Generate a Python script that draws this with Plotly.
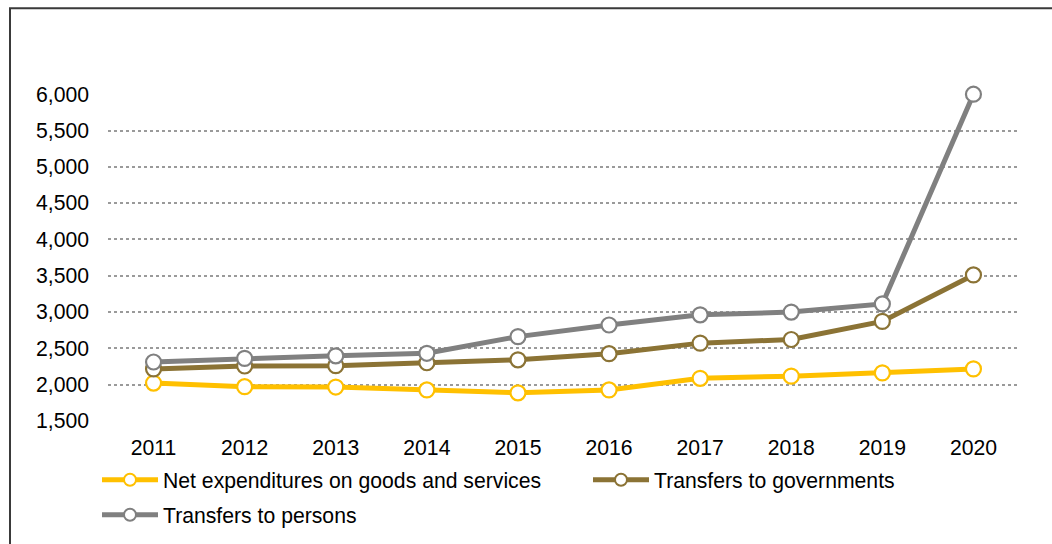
import plotly.graph_objects as go

years = ["2011", "2012", "2013", "2014", "2015", "2016", "2017", "2018", "2019", "2020"]
net_expenditures = [2020, 1970, 1965, 1925, 1885, 1925, 2085, 2115, 2160, 2215]
transfers_governments = [2215, 2255, 2260, 2300, 2340, 2425, 2570, 2620, 2870, 3510]
transfers_persons = [2310, 2360, 2395, 2430, 2660, 2820, 2960, 2998, 3110, 6000]
y_ticks = [1500, 2000, 2500, 3000, 3500, 4000, 4500, 5000, 5500, 6000]

series = [
    ("Net expenditures on goods and services", net_expenditures, "#FFC000", "legend"),
    ("Transfers to governments", transfers_governments, "#8B7335", "legend2"),
    ("Transfers to persons", transfers_persons, "#808080", "legend3"),
]

W, H = 1052, 544
ml, mr, mt, mb = 108, 33, 94, 122.5
pw, ph = W - ml - mr, H - mt - mb

fig = go.Figure()
for name, vals, col, lg in series:
    fig.add_trace(go.Scatter(
        x=years, y=vals, name=name, mode="lines+markers",
        line=dict(color=col, width=5),
        marker=dict(size=15, color="white", line=dict(color=col, width=2.2)),
        legend=lg, cliponaxis=False,
    ))

font = dict(family="Liberation Sans, Arial, sans-serif", size=21.2, color="#000000")

def legend_at(x_px, y_px):
    return dict(
        orientation="h",
        xref="container", yref="container",
        x=x_px / W, xanchor="left",
        y=1 - y_px / H, yanchor="middle",
        itemwidth=56, itemsizing="constant",
        font=font, bgcolor="rgba(0,0,0,0)",
    )

fig.update_layout(
    width=W, height=H,
    margin=dict(l=ml, r=mr, t=mt, b=mb, pad=0, autoexpand=False),
    paper_bgcolor="white", plot_bgcolor="white",
    font=font,
    showlegend=True,
    legend=legend_at(97, 480),
    legend2=legend_at(588, 480),
    legend3=legend_at(97, 515),
    xaxis=dict(
        type="category", range=[-0.5, 9.5],
        showgrid=False, zeroline=False, showline=False,
        ticks="", ticklabelstandoff=12, tickfont=font,
    ),
    yaxis=dict(
        range=[1497, 6003], tickvals=y_ticks,
        ticktext=[f"{v:,}" for v in y_ticks],
        showgrid=True, gridcolor="#9A9A9A", gridwidth=1.5, griddash="dot",
        zeroline=False, showline=False, ticks="",
        ticklabelstandoff=18, tickfont=font,
    ),
    shapes=[dict(
        type="rect", xref="paper", yref="paper",
        x0=(10 - ml) / pw, x1=(W + 20 - ml) / pw,
        y0=-(H + 20 - (mt + ph)) / ph, y1=(mt + ph - 8) / ph,
        line=dict(color="#3A3A3A", width=2), fillcolor="rgba(0,0,0,0)",
        layer="below",
    )],
)

fig.write_html("out.html")
